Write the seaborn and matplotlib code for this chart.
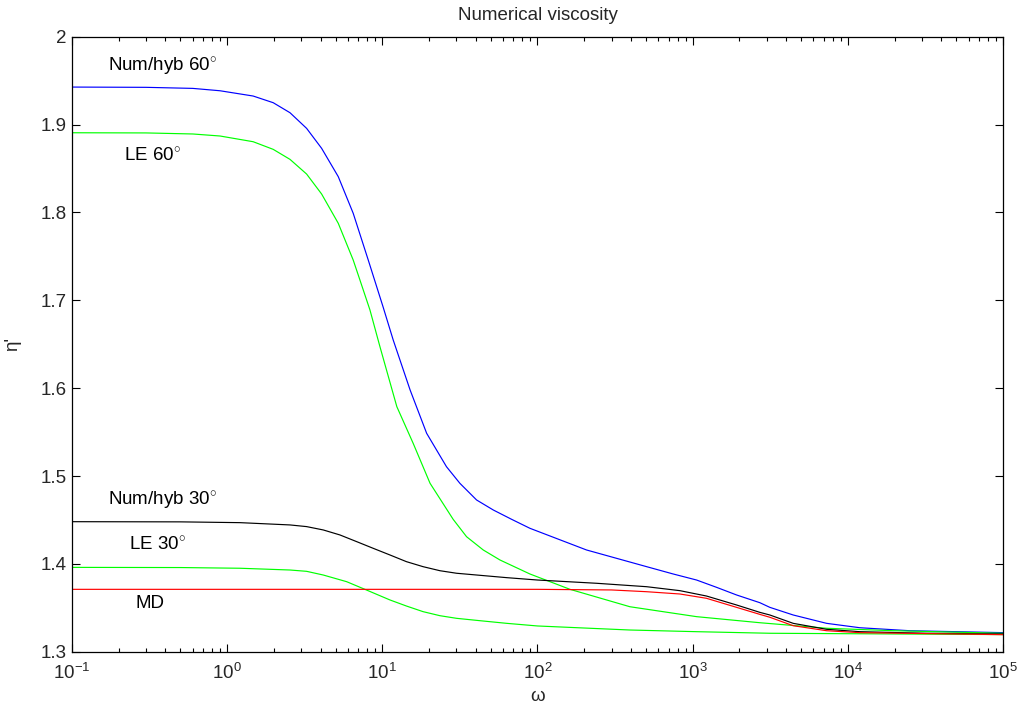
import numpy as np
import pandas as pd
import matplotlib
matplotlib.use("Agg")
import matplotlib.pyplot as plt
import seaborn as sns
from matplotlib.ticker import (FixedLocator, FixedFormatter, NullFormatter,
                               LogFormatterSciNotation)

# ---- data ----
blue_w = [0.1, 0.3, 0.6, 0.899, 1.47, 1.98, 2.54, 3.25, 4.06, 5.2, 6.49, 8.11, 10.1, 11.75,
          15.1, 19.3, 25.9, 31.6, 40.5, 51.9, 68.1, 89.3, 207, 505, 748, 1060, 1425, 1918,
          2710, 3144, 4446, 7295, 11950, 25070, 1e5]
blue_y = [1.9427, 1.9424, 1.9412, 1.9385, 1.9325, 1.9249, 1.9135, 1.8957, 1.873, 1.8407,
          1.799, 1.7459, 1.6927, 1.6548, 1.5979, 1.5486, 1.5106, 1.4917, 1.4727, 1.4613,
          1.4507, 1.4405, 1.4158, 1.3968, 1.3885, 1.3816, 1.3733, 1.3646, 1.3558, 1.3505,
          1.3418, 1.3323, 1.3273, 1.3239, 1.3217]

green60_w = [0.1, 0.3, 0.6, 0.899, 1.47, 1.98, 2.54, 3.25, 4.06, 5.2, 6.49, 7.17, 8.32, 9.65,
             12.4, 15.8, 20.3, 28.6, 34.9, 44.7, 57.3, 89.3, 162, 394, 1060, 2710, 7295,
             19600, 1e5]
green60_y = [1.8907, 1.8905, 1.8893, 1.887, 1.8805, 1.8718, 1.8604, 1.8437, 1.821, 1.7876,
             1.7458, 1.7231, 1.689, 1.6472, 1.5789, 1.5372, 1.4917, 1.4507, 1.4309, 1.4158,
             1.4044, 1.3885, 1.371, 1.3512, 1.3399, 1.333, 1.3267, 1.3239, 1.321]

black_w = [0.1, 0.5, 1.21, 2.54, 3.25, 4.16, 5.33, 6.83, 8.73, 11.2, 14.3, 18.3, 23.5, 30.1,
           63.3, 100, 240, 505, 827, 1227, 1918, 2710, 3144, 4446, 7295, 11950, 32100, 1e5]
black_y = [1.448, 1.4478, 1.4469, 1.4443, 1.4424, 1.4386, 1.4329, 1.4253, 1.4177, 1.4101,
           1.4025, 1.3968, 1.3922, 1.3893, 1.3843, 1.3816, 1.3779, 1.374, 1.3695, 1.3634,
           1.3532, 1.3448, 1.3418, 1.3323, 1.3255, 1.3228, 1.321, 1.3202]

red_w = [0.1, 100, 300, 505, 827, 1227, 1918, 2710, 3144, 4446, 7295, 11950, 1e5]
red_y = [1.371, 1.371, 1.3703, 1.3683, 1.3657, 1.3608, 1.3505, 1.3425, 1.3392, 1.3296, 1.3239,
         1.3217, 1.3194]

green30_w = [0.1, 0.5, 1.21, 2.54, 3.25, 4.16, 5.89, 7.72, 11.2, 14.3, 18.3, 23.5, 30.1, 42.6,
             63.3, 100, 394, 1060, 3144, 1e5]
green30_y = [1.396, 1.3958, 1.395, 1.393, 1.3915, 1.3873, 1.3797, 1.371, 1.3589, 1.352, 1.3456,
             1.341, 1.338, 1.3353, 1.3323, 1.3293, 1.3247, 1.3228, 1.321, 1.3195]

series_names = ["Num/hyb 60", "LE 60", "Num/hyb 30", "LE 30", "MD"]
series_colors = ["#0000ff", "#00ff00", "#000000", "#00ff00", "#ff0000"]

label_texts = ["Num/hyb 60$^{\\circ}$", "LE 60$^{\\circ}$", "Num/hyb 30$^{\\circ}$",
               "LE 30$^{\\circ}$", "MD"]
label_x = [0.171, 0.216, 0.171, 0.233, 0.258]
label_y = [1.9602, 1.8585, 1.4659, 1.4147, 1.3501]

xticks = [1e-1, 1e0, 1e1, 1e2, 1e3, 1e4, 1e5]
yticks = [1.3, 1.4, 1.5, 1.6, 1.7, 1.8, 1.9, 2.0]
ytick_labels = ["1.3", "1.4", "1.5", "1.6", "1.7", "1.8", "1.9", "2"]

# ---- style ----
sns.set_style("white")
plt.rcParams["font.family"] = ["Liberation Sans", "DejaVu Sans"]
plt.rcParams["mathtext.fontset"] = "custom"
plt.rcParams["mathtext.rm"] = "Liberation Sans"
plt.rcParams["mathtext.it"] = "Liberation Sans:italic"
plt.rcParams["mathtext.bf"] = "Liberation Sans:bold"
FS = 13.5

frames = []
for name, w, y in zip(series_names,
                      [blue_w, green60_w, black_w, green30_w, red_w],
                      [blue_y, green60_y, black_y, green30_y, red_y]):
    frames.append(pd.DataFrame({"omega": w, "eta": y, "series": name}))
df = pd.concat(frames, ignore_index=True)

fig = plt.figure(figsize=(10.29, 7.09), dpi=100)
ax = fig.add_axes([0.07, 0.0808, 0.9047, 0.8674])

sns.lineplot(data=df, x="omega", y="eta", hue="series", hue_order=series_names,
             palette=dict(zip(series_names, series_colors)), estimator=None,
             sort=False, linewidth=0.85, legend=False, ax=ax)

ax.set_xscale("log")
ax.set_xlim(0.1, 1e5)
ax.set_ylim(1.3, 2.0)

minor_x = [m * d for d in xticks[:-1] for m in range(2, 10)]
ax.xaxis.set_major_locator(FixedLocator(xticks))
ax.xaxis.set_major_formatter(LogFormatterSciNotation())
ax.xaxis.set_minor_locator(FixedLocator(minor_x))
ax.xaxis.set_minor_formatter(NullFormatter())
ax.yaxis.set_major_locator(FixedLocator(yticks))
ax.yaxis.set_major_formatter(FixedFormatter(ytick_labels))
ax.yaxis.set_minor_locator(FixedLocator([]))

ax.tick_params(which="both", direction="in", top=True, right=True, bottom=True, left=True,
               color="black", width=0.8)
ax.tick_params(which="major", length=6)
ax.tick_params(which="minor", length=3)
ax.tick_params(axis="x", which="major", labelsize=FS, pad=8)
ax.tick_params(axis="y", which="major", labelsize=FS, pad=4)

for sp in ax.spines.values():
    sp.set_visible(True)
    sp.set_color("black")
    sp.set_linewidth(0.9)

for t, x, y in zip(label_texts, label_x, label_y):
    ax.text(x, y, t, fontsize=FS, ha="left", va="baseline", color="black")

ax.set_title("Numerical viscosity", fontsize=FS, pad=12)
ax.set_xlabel("ω", fontsize=FS, labelpad=4)
ax.set_ylabel("η'", fontsize=FS, labelpad=14)

fig.savefig("out.png", dpi=100, facecolor="white")
